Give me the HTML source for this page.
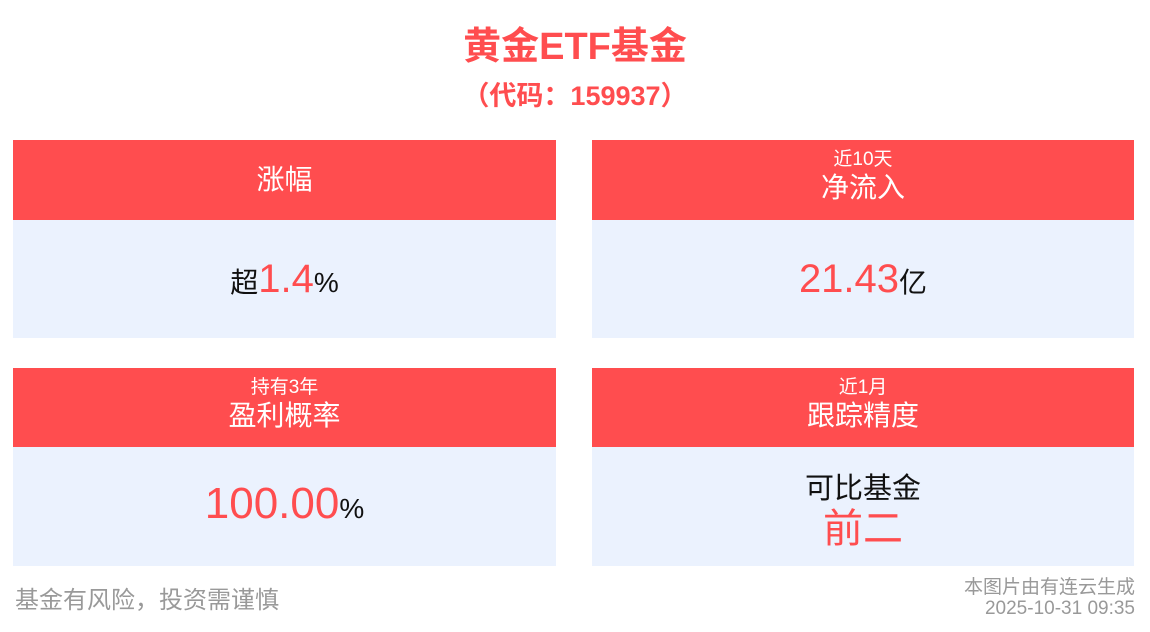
<!DOCTYPE html>
<html><head><meta charset="utf-8"><style>
*{margin:0;padding:0;box-sizing:border-box}
body{width:1150px;height:632px;background:#fff;position:relative;overflow:hidden;font-family:"Liberation Sans","Noto Sans CJK SC",sans-serif}
.a{position:absolute;white-space:nowrap}
.h{position:absolute;background:#ff4d4f;color:#fff;text-align:center}
.b{position:absolute;background:#ebf2fe;text-align:center;color:#111}
.r{color:#ff4d4f}
</style></head><body>
<div class="a" style="left:0;width:1150px;top:21px;text-align:center;font-size:38px;font-weight:bold;color:#ff4d4f;line-height:52px">黄金ETF基金</div>
<div class="a" style="left:0;width:1150px;top:78px;text-align:center;font-size:27px;font-weight:bold;color:#ff4d4f;line-height:36px">（代码：159937）</div>

<div class="h" style="left:13px;top:140px;width:543px;height:80px;font-size:28px;line-height:80px">涨幅</div>
<div class="b" style="left:13px;top:220px;width:543px;height:118px;font-size:28px;line-height:118px">超<span class="r" style="font-size:40px">1.4</span>%</div>

<div class="h" style="left:592px;top:140px;width:542px;height:80px"><div style="font-size:19px;line-height:20px;margin-top:10px">近10天</div><div style="font-size:28px;line-height:36px">净流入</div></div>
<div class="b" style="left:592px;top:220px;width:542px;height:118px;font-size:28px;line-height:118px"><span class="r" style="font-size:40px">21.43</span>亿</div>

<div class="h" style="left:13px;top:368px;width:543px;height:79px"><div style="font-size:19px;line-height:20px;margin-top:10px">持有3年</div><div style="font-size:28px;line-height:36px">盈利概率</div></div>
<div class="b" style="left:13px;top:447px;width:543px;height:119px;font-size:28px;line-height:114px"><span class="r" style="font-size:44px">100.00</span>%</div>

<div class="h" style="left:592px;top:368px;width:542px;height:79px"><div style="font-size:19px;line-height:20px;margin-top:10px">近1月</div><div style="font-size:28px;line-height:36px">跟踪精度</div></div>
<div class="b" style="left:592px;top:447px;width:542px;height:119px"><div style="font-size:29px;line-height:36px;margin-top:24px">可比基金</div><div class="r" style="font-size:40px;line-height:44px">前二</div></div>

<div class="a" style="left:15px;top:586px;font-size:24px;color:#999;line-height:30px">基金有风险，投资需谨慎</div>
<div class="a" style="right:15px;top:577px;font-size:19px;color:#999;line-height:21px;text-align:right">本图片由有连云生成<br>2025-10-31 09:35</div>
</body></html>
